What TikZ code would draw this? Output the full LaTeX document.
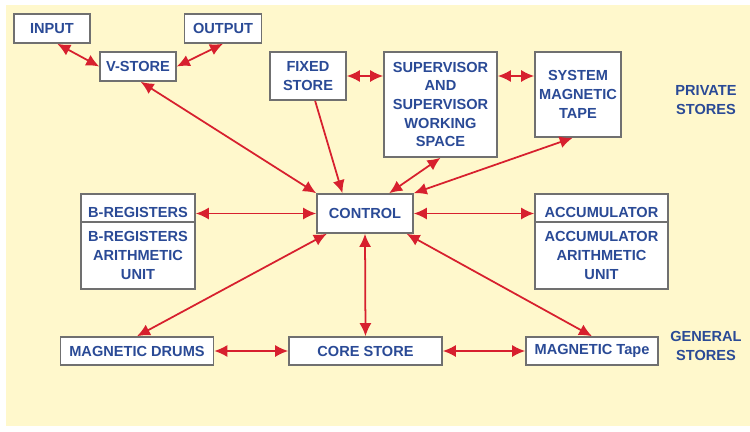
\documentclass[tikz,border=0pt]{standalone}
\usepackage{fontspec}
\setmainfont{Liberation Sans}
\usetikzlibrary{arrows.meta}
\definecolor{paper}{HTML}{FFF8CC}
\definecolor{ink}{HTML}{2A4A96}
\definecolor{wire}{HTML}{D7202E}
\definecolor{frame}{HTML}{707070}
\begin{document}
\begin{tikzpicture}[
		font=\fontsize{8.3}{10.6}\selectfont\bfseries,
		box/.style={draw=frame, fill=white, line width=0.9pt, text=ink, inner sep=0pt, align=center},
		tag/.style={text=ink, align=center},
		link/.style={wire, line width=1pt, >={Latex[length=2.6mm,width=2.4mm]}, <->},
	]
		\useasboundingbox (0, 0) rectangle (15, 8.62);
		\fill[paper] (0.12, 0.10) rectangle (15, 8.52);

		% private stores
		\node[box, minimum width=1.52cm, minimum height=0.58cm] (input) at (1.04, 8.05) {INPUT};
		\node[box, minimum width=1.54cm, minimum height=0.58cm] (output) at (4.46, 8.05) {OUTPUT};
		\node[box, minimum width=1.52cm, minimum height=0.58cm] (vstore) at (2.76, 7.29) {V-STORE};
		\node[box, minimum width=1.52cm, minimum height=0.96cm] (fixed) at (6.16, 7.10) {FIXED\\STORE};
		\node[box, minimum width=2.26cm, minimum height=2.10cm] (super) at (8.81, 6.53) {SUPERVISOR\\AND\\SUPERVISOR\\WORKING\\SPACE};
		\node[box, minimum width=1.72cm, minimum height=1.70cm] (systape) at (11.56, 6.73) {SYSTEM\\MAGNETIC\\TAPE};
		\node[tag] (private) at (14.12, 6.62) {PRIVATE\\STORES};

		% control with the registers
		\node[box, minimum width=1.92cm, minimum height=0.78cm] (control) at (7.30, 4.35) {CONTROL};
		\node[box, minimum width=2.28cm, minimum height=0.56cm, text height=0.36cm, text depth=0pt] (breg) at (2.76, 4.46) {B-REGISTERS};
		\node[box, minimum width=2.28cm, minimum height=1.34cm] (bregalu) at (2.76, 3.51) {B-REGISTERS\\ARITHMETIC\\UNIT};
		\node[box, minimum width=2.66cm, minimum height=0.56cm, text height=0.36cm, text depth=0pt] (acc) at (12.03, 4.46) {ACCUMULATOR};
		\node[box, minimum width=2.66cm, minimum height=1.34cm] (accalu) at (12.03, 3.51) {ACCUMULATOR\\ARITHMETIC\\UNIT};

		% general stores
		\node[box, minimum width=3.06cm, minimum height=0.56cm] (drums) at (2.74, 1.60) {MAGNETIC DRUMS};
		\node[box, minimum width=3.06cm, minimum height=0.56cm] (core) at (7.31, 1.60) {CORE STORE};
		\node[box, minimum width=2.64cm, minimum height=0.56cm] (mtape) at (11.84, 1.60) {MAGNETIC Tape};
		\node[tag] (general) at (14.12, 1.70) {GENERAL\\STORES};

		\draw[link] (input.-71) -- (vstore.west);
		\draw[link] (output.south) -- (vstore.east);
		\draw[link] (vstore.-80) -- (control.north west);
		\draw[link] (fixed.east) -- (fixed.east -| super.west);
		\draw[link] (super.east |- fixed.east) -- (systape.west |- fixed.east);
		\draw[link, -> ] (fixed.-74) -- (control.138);
		\draw[link] (super.south) -- (control.40);
		\draw[link] (systape.-97) -- (control.north east);
		\draw[link] (control.west) -- (control.west -| breg.east);
		\draw[link] (control.east) -- (control.east -| acc.west);
		\draw[link] (control.208) -- (drums.north);
		\draw[link] (control.south) -- (core.north);
		\draw[link] (control.-26) -- (mtape.north);
		\draw[link] (drums.east) -- (core.west);
		\draw[link] (core.east) -- (mtape.west);
	\end{tikzpicture}
\end{document}
